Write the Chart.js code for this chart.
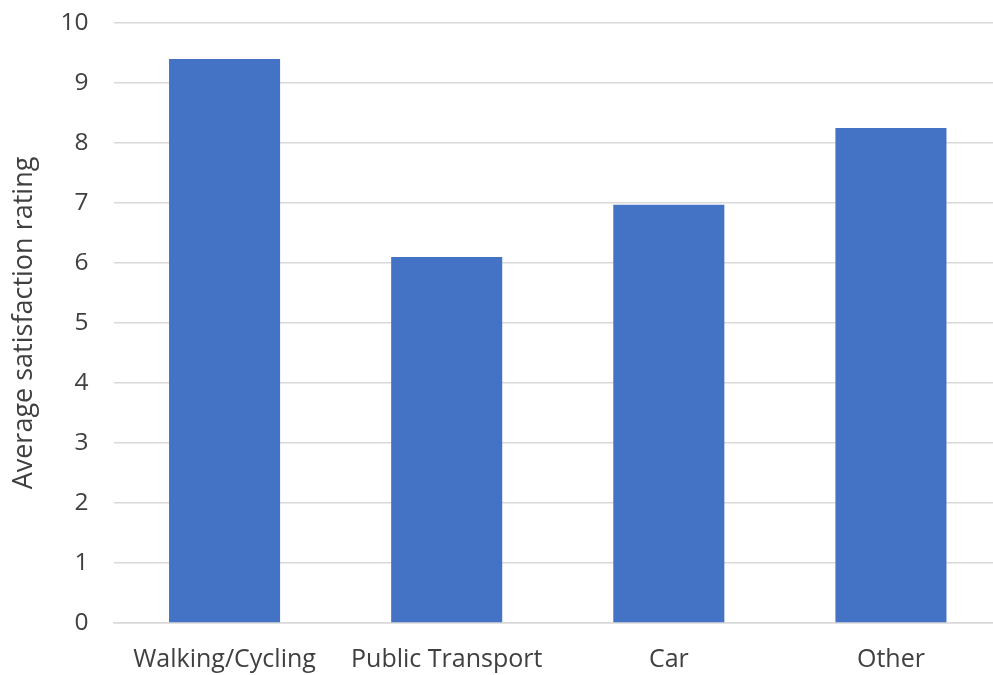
<!DOCTYPE html>
<html>
<head>
<meta charset="utf-8">
<script src="https://cdn.jsdelivr.net/npm/chart.js@4/dist/chart.umd.min.js"></script>
<style>
  html, body { margin: 0; padding: 0; background: #fff; overflow: hidden; }
  #wrap { width: 1002px; height: 675px; position: relative; }
</style>
</head>
<body>
<div id="wrap"><canvas id="chart"></canvas></div>
<script>
// Average satisfaction rating by travel mode
const categories = ['Walking/Cycling', 'Public Transport', 'Car', 'Other'];
const ratings = [9.4, 6.1, 6.97, 8.25];
const yTicks = [0, 1, 2, 3, 4, 5, 6, 7, 8, 9, 10];

const textColor = '#404040';
const gridColor = '#d9d9d9';
const fontFamily = '"Open Sans", sans-serif';

new Chart(document.getElementById('chart').getContext('2d'), {
    type: 'bar',
    data: {
        labels: categories,
        datasets: [{
            data: ratings,
            backgroundColor: '#4472C4',
            categoryPercentage: 1.0,
            barPercentage: 0.5
        }]
    },
    options: {
        responsive: true,
        maintainAspectRatio: false,
        animation: false,
        layout: { padding: { top: 23, right: 0, left: 0, bottom: 0 } },
        plugins: {
            legend: { display: false },
            tooltip: { enabled: false }
        },
        scales: {
            x: {
                grid: { display: false, drawTicks: false },
                border: { display: true, color: gridColor, width: 1.5 },
                ticks: {
                    color: textColor,
                    font: { family: fontFamily, size: 25 },
                    padding: 22,
                    maxRotation: 0
                },
                afterFit: s => { s.height = 52; s.paddingLeft = 0; s.paddingRight = 0; }
            },
            y: {
                min: 0,
                max: 10,
                afterBuildTicks: s => { s.ticks = yTicks.map(v => ({ value: v })); },
                grid: { color: gridColor, lineWidth: 1.5, drawTicks: false },
                border: { display: false },
                ticks: {
                    color: textColor,
                    font: { family: fontFamily, size: 24.5 },
                    padding: 25
                },
                title: {
                    display: true,
                    text: 'Average satisfaction rating',
                    color: textColor,
                    font: { family: fontFamily, size: 27 },
                    padding: { top: 8, bottom: 0 }
                },
                afterFit: s => { s.width = 113.5; s.paddingTop = 0; s.paddingBottom = 0; }
            }
        }
    }
});
</script>
</body>
</html>
